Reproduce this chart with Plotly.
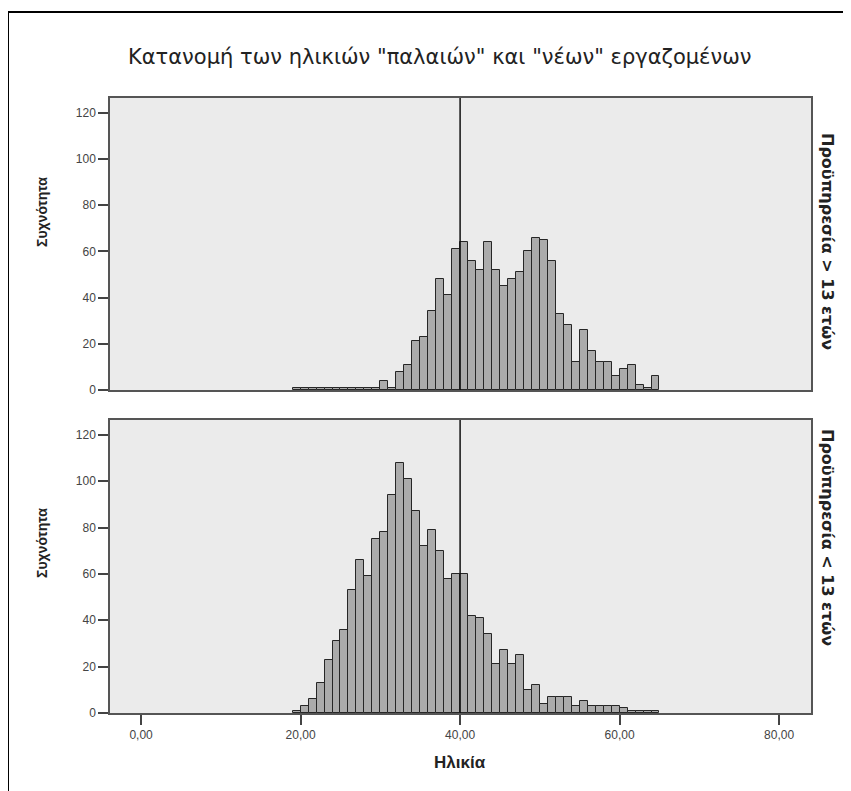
import plotly.graph_objects as go

# ---- data ----
bin_left = list(range(19, 65))
counts_old = [1, 1, 1, 1, 1, 1, 1, 1, 1, 1, 1,
              4, 1, 8, 11, 21, 23, 34, 48, 41, 61, 64, 56, 52, 64, 52, 45, 48, 51, 60, 66, 65, 56,
              33, 28, 12, 26, 17, 12, 12, 6, 9, 11, 2, 1, 6]
counts_new = [1, 3, 6, 13, 23, 31, 36, 53, 66, 59, 75, 78, 94, 108, 101, 87, 72, 79, 70, 58, 60, 60,
              42, 41, 34, 21, 27, 21, 25, 10, 12, 4, 7, 7, 7, 3, 5, 3, 3, 3, 3, 2, 1, 1, 1, 1]
x_tickvals = [0, 20, 40, 60, 80]
x_ticktext = ["0,00", "20,00", "40,00", "60,00", "80,00"]
y_tickvals = [0, 20, 40, 60, 80, 100, 120]
ref_age = 40

title_text = 'Κατανομή των ηλικιών "παλαιών" και "νέων" εργαζομένων'
panel_labels = ["Προϋπηρεσία > 13 ετών", "Προϋπηρεσία < 13 ετών"]
y_title = "Συχνότητα"
x_title = "Ηλικία"

FONT = "Liberation Sans, Arial, sans-serif"
TFONT = "DejaVu Sans, Liberation Sans, sans-serif"
bar_fill = "#ababab"
bar_line = "#262626"

# page body has an 8px margin: figure coordinates = screen - 8
W, H = 843, 783
L, R, T, B = 102, 803, 90, 705          # plot area in figure pixels
PW, PH = R - L, B - T


def px(x):  # figure x pixel -> paper
    return (x - L) / PW


def py(y):  # figure y pixel -> paper
    return (B - y) / PH


fig = go.Figure()
fig.add_trace(go.Bar(x=bin_left, y=counts_old, width=1, offset=0,
                     marker=dict(color=bar_fill, line=dict(color=bar_line, width=1)),
                     xaxis="x", yaxis="y", showlegend=False))
fig.add_trace(go.Bar(x=bin_left, y=counts_new, width=1, offset=0,
                     marker=dict(color=bar_fill, line=dict(color=bar_line, width=1)),
                     xaxis="x2", yaxis="y2", showlegend=False))

xr = [-3.9, 84.0]
yr = [0, 126.4]
top_dom = [py(382), 1.0]
bot_dom = [0.0, py(412)]

common_x = dict(range=xr, showgrid=False, zeroline=False, showline=True, linecolor="#555",
                linewidth=1.5, mirror=True, fixedrange=True)
common_y = dict(range=yr, showgrid=False, zeroline=False, showline=True, linecolor="#555",
                linewidth=1.5, mirror=True, ticks="outside", ticklen=10, tickwidth=2,
                tickcolor="#444", tickvals=y_tickvals,
                tickfont=dict(family=FONT, size=12, color="#444"))

fig.update_layout(
    width=W, height=H,
    margin=dict(l=L, r=W - R, t=T, b=H - B, autoexpand=False),
    paper_bgcolor="white", plot_bgcolor="#ebebeb",
    bargap=0,
    xaxis=dict(domain=[0, 1], anchor="y", showticklabels=False, ticks="", **common_x),
    yaxis=dict(domain=top_dom, anchor="x", **common_y),
    xaxis2=dict(domain=[0, 1], anchor="y2", ticks="outside", ticklen=10, tickwidth=2,
                tickcolor="#444", tickvals=x_tickvals, ticktext=x_ticktext,
                tickfont=dict(family=FONT, size=12, color="#444"),
                **common_x),
    yaxis2=dict(domain=bot_dom, anchor="x2", **common_y),
)

# chart title
fig.add_annotation(text=title_text, xref="paper", yref="paper",
                   x=px(432), y=py(49), showarrow=False, xanchor="center", yanchor="middle",
                   font=dict(family=TFONT, size=21, color="#222"))

# x-axis title
fig.add_annotation(text="<b>" + x_title + "</b>", xref="paper", yref="paper",
                   x=px(452), y=py(754), showarrow=False, xanchor="center", yanchor="middle",
                   font=dict(family=FONT, size=17, color="#222"))

# y-axis titles and right-side panel labels
ytitle_centers = [204, 535]
right_centers = [233, 529]
for yc, rc, lab in zip(ytitle_centers, right_centers, panel_labels):
    fig.add_annotation(text="<b>" + y_title + "</b>", xref="paper", yref="paper",
                       x=px(34), y=py(yc), textangle=-90, showarrow=False,
                       xanchor="center", yanchor="middle",
                       font=dict(family=FONT, size=14, color="#222"))
    fig.add_annotation(text="<b>" + lab + "</b>", xref="paper", yref="paper",
                       x=px(820), y=py(rc), textangle=90, showarrow=False,
                       xanchor="center", yanchor="middle",
                       font=dict(family=TFONT, size=16, color="#222"))

# reference line at 40 in both panels
fig.add_shape(type="line", xref="x", yref="y domain", x0=ref_age, x1=ref_age, y0=0, y1=1,
              line=dict(color="#111", width=1.5))
fig.add_shape(type="line", xref="x2", yref="y2 domain", x0=ref_age, x1=ref_age, y0=0, y1=1,
              line=dict(color="#111", width=1.5))

# outer frame
fig.add_shape(type="rect", xref="paper", yref="paper",
              x0=px(0), x1=px(846), y0=py(786), y1=py(4),
              line=dict(color="black", width=2), fillcolor="rgba(0,0,0,0)", layer="above")

fig.write_html("out.html")
